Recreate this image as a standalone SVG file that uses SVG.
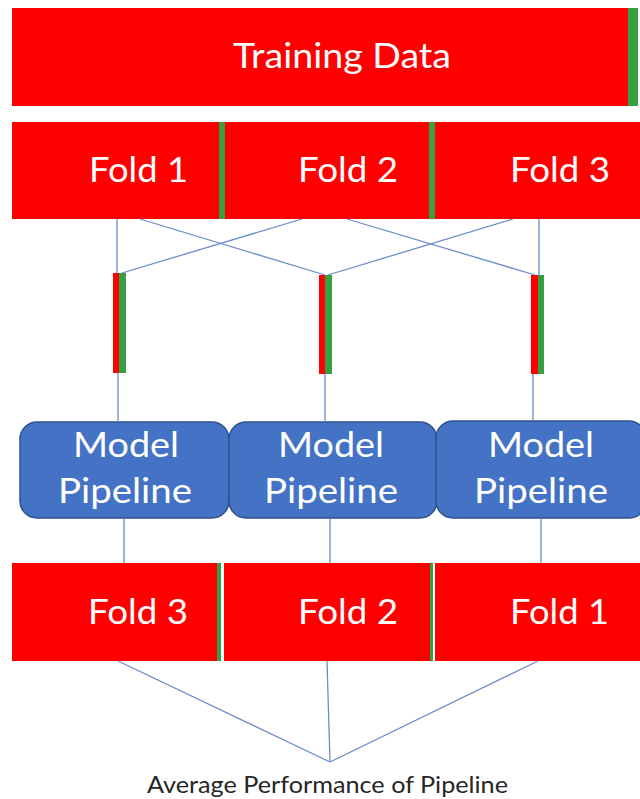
<svg xmlns="http://www.w3.org/2000/svg" width="640" height="799" viewBox="0 0 640 799">
  <style>
    .red { fill: #ff0000; }
    .green { fill: #34a03f; }
    .pipe { fill: #4472c4; stroke: #2f528f; stroke-width: 1.5; }
    .wt { fill: #ffffff; font-family: Lato, "Open Sans", sans-serif; font-size: 35px; }
    .cap { fill: #262626; font-family: Lato, "Open Sans", sans-serif; font-size: 24px; }
    .link { stroke: #6a8ccc; stroke-width: 1.3; fill: none; }
  </style>
  <rect width="640" height="799" fill="#ffffff"/>

  <!-- full training set -->
  <g id="training-data">
    <rect class="red" x="12" y="8" width="616" height="98"/>
    <rect class="green" x="628" y="8" width="10" height="98"/>
    <text class="wt" x="233" y="68" textLength="218" lengthAdjust="spacingAndGlyphs">Training Data</text>
  </g>

  <!-- split into three folds -->
  <g id="fold-1-top">
    <rect class="red" x="12" y="122" width="207" height="97"/>
    <rect class="green" x="219" y="122" width="6" height="97"/>
    <text class="wt" x="89" y="182" textLength="99" lengthAdjust="spacingAndGlyphs">Fold 1</text>
  </g>
  <g id="fold-2-top">
    <rect class="red" x="225" y="122" width="204" height="97"/>
    <rect class="green" x="429" y="122" width="6" height="97"/>
    <text class="wt" x="298" y="182" textLength="100" lengthAdjust="spacingAndGlyphs">Fold 2</text>
  </g>
  <g id="fold-3-top">
    <rect class="red" x="435" y="122" width="205" height="97"/>
    <text class="wt" x="510" y="182" textLength="100" lengthAdjust="spacingAndGlyphs">Fold 3</text>
  </g>

  <!-- train/test split bars -->
  <g id="split-1">
    <rect class="red" x="113" y="273" width="6" height="100"/>
    <rect class="green" x="119" y="273" width="7" height="100"/>
  </g>
  <g id="split-2">
    <rect class="red" x="319" y="275" width="6" height="99"/>
    <rect class="green" x="325" y="275" width="7" height="99"/>
  </g>
  <g id="split-3">
    <rect class="red" x="531" y="275" width="7" height="99"/>
    <rect class="green" x="538" y="275" width="6" height="99"/>
  </g>

  <!-- model pipelines -->
  <g id="pipeline-1">
    <rect class="pipe" x="20" y="422" width="209" height="96" rx="17" ry="17"/>
    <text class="wt" x="73" y="457" textLength="106" lengthAdjust="spacingAndGlyphs">Model</text>
    <text class="wt" x="58" y="503" textLength="134" lengthAdjust="spacingAndGlyphs">Pipeline</text>
  </g>
  <g id="pipeline-2">
    <rect class="pipe" x="229" y="422" width="208" height="96" rx="17" ry="17"/>
    <text class="wt" x="278" y="457" textLength="106" lengthAdjust="spacingAndGlyphs">Model</text>
    <text class="wt" x="264" y="503" textLength="134" lengthAdjust="spacingAndGlyphs">Pipeline</text>
  </g>
  <g id="pipeline-3">
    <rect class="pipe" x="436" y="421" width="210" height="97" rx="17" ry="17"/>
    <text class="wt" x="488" y="457" textLength="106" lengthAdjust="spacingAndGlyphs">Model</text>
    <text class="wt" x="474" y="503" textLength="134" lengthAdjust="spacingAndGlyphs">Pipeline</text>
  </g>

  <!-- evaluation folds -->
  <g id="fold-3-bottom">
    <rect class="red" x="12" y="563" width="205" height="98"/>
    <rect class="green" x="217" y="563" width="4" height="98"/>
    <text class="wt" x="88" y="624" textLength="100" lengthAdjust="spacingAndGlyphs">Fold 3</text>
  </g>
  <g id="fold-2-bottom">
    <rect class="red" x="224" y="563" width="206" height="98"/>
    <rect class="green" x="430" y="563" width="3" height="98"/>
    <text class="wt" x="298" y="624" textLength="100" lengthAdjust="spacingAndGlyphs">Fold 2</text>
  </g>
  <g id="fold-1-bottom">
    <rect class="red" x="435" y="563" width="205" height="98"/>
    <text class="wt" x="510" y="624" textLength="99" lengthAdjust="spacingAndGlyphs">Fold 1</text>
  </g>

  <g id="result">
    <text class="cap" x="147" y="793" textLength="361" lengthAdjust="spacingAndGlyphs">Average Performance of Pipeline</text>
  </g>

  <!-- connectors -->
  <g id="connectors">
    <line class="link" x1="117" y1="219" x2="117" y2="273"/>
    <line class="link" x1="140" y1="219" x2="325" y2="275"/>
    <line class="link" x1="302" y1="219" x2="122" y2="273"/>
    <line class="link" x1="347" y1="219" x2="535" y2="275"/>
    <line class="link" x1="513" y1="219" x2="328" y2="275"/>
    <line class="link" x1="539" y1="219" x2="539" y2="275"/>

    <line class="link" x1="118" y1="373" x2="118" y2="422"/>
    <line class="link" x1="325" y1="374" x2="325" y2="422"/>
    <line class="link" x1="533" y1="374" x2="533" y2="421"/>

    <line class="link" x1="124" y1="518" x2="124" y2="563"/>
    <line class="link" x1="330" y1="518" x2="330" y2="563"/>
    <line class="link" x1="541" y1="518" x2="541" y2="563"/>

    <line class="link" x1="118" y1="661" x2="330" y2="762"/>
    <line class="link" x1="327" y1="661" x2="330" y2="762"/>
    <line class="link" x1="538" y1="661" x2="330" y2="762"/>
  </g>
</svg>
